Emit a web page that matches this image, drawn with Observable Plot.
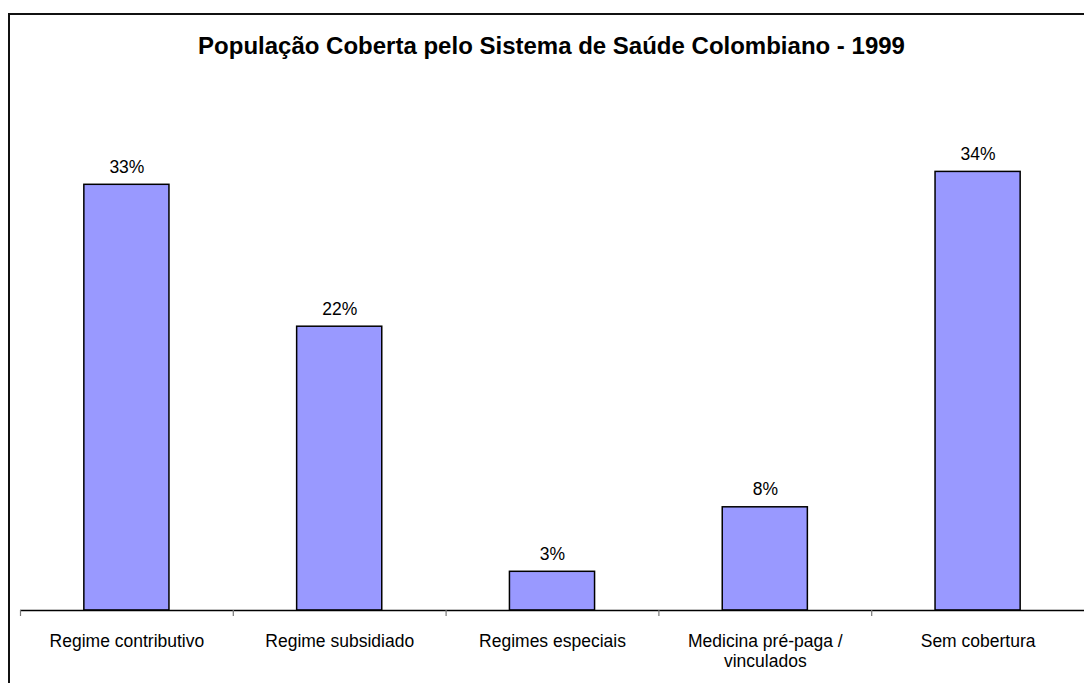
<!DOCTYPE html>
<html>
<head>
<meta charset="utf-8">
<script src="https://cdn.jsdelivr.net/npm/d3@7"></script>
<script src="https://cdn.jsdelivr.net/npm/@observablehq/plot@0.6"></script>
<style>
  html, body { margin: 0; padding: 0; background: #fff; }
  #wrap { position: relative; width: 1084px; height: 683px; overflow: hidden; background: #fff; font-family: "Liberation Sans", Arial, sans-serif; }
  #frame { position: absolute; left: 8px; top: 13px; width: 1200px; height: 800px; border: 2px solid #111; box-sizing: border-box; }
  #title { position: absolute; left: 0; width: 1103px; top: 34px; text-align: center; font-weight: bold; font-size: 24px; line-height: 1; color: #000; }
  #chart { position: absolute; left: 0; top: 0; }
</style>
</head>
<body>
<div id="wrap">
  <div id="frame"></div>
  <div id="title">População Coberta pelo Sistema de Saúde Colombiano - 1999</div>
  <div id="chart"></div>
</div>
<script>
const categories = ["Regime contributivo", "Regime subsidiado", "Regimes especiais", "Medicina pré-paga / vinculados", "Sem cobertura"];
const tickLabels = ["Regime contributivo", "Regime subsidiado", "Regimes especiais", "Medicina pré-paga /\nvinculados", "Sem cobertura"];
const values = [33, 22, 3, 8, 34];
const valueLabels = ["33%", "22%", "3%", "8%", "34%"];

const data = categories.map((c, i) => ({category: c, value: values[i], label: valueLabels[i], tick: tickLabels[i]}));

const W = 1084, H = 683;
const mL = 20, mR = 0;
const step = (W - mL - mR) / categories.length;

const chart = Plot.plot({
  width: W,
  height: H,
  marginLeft: mL,
  marginRight: mR,
  marginTop: 94,
  marginBottom: 73,
  style: {background: "transparent", fontFamily: "'Liberation Sans', Arial, sans-serif", color: "#000"},
  x: {domain: categories, paddingInner: 0.6, paddingOuter: 0.3, round: false, axis: null, label: null},
  y: {domain: [0, 40], axis: null, label: null},
  marks: [
    Plot.barY(data, {x: "category", y: "value", fill: "#9999FF", stroke: "#000", strokeWidth: 1.5}),
    Plot.ruleY([0], {stroke: "#000", strokeWidth: 1.5}),
    Plot.axisX({domain: categories, tickSize: 6, tickFormat: () => "", label: null, dx: -step / 2, stroke: "#777", strokeWidth: 1.2}),
    Plot.text(data, {x: "category", y: "value", text: "label", lineAnchor: "bottom", dy: -12, fontSize: 17.5, fill: "#000"}),
    Plot.text(data, {x: "category", text: "tick", frameAnchor: "bottom", lineAnchor: "top", dy: 22, lineHeight: 1.15, fontSize: 17.5, fill: "#000"})
  ]
});
document.getElementById("chart").appendChild(chart);
</script>
</body>
</html>
